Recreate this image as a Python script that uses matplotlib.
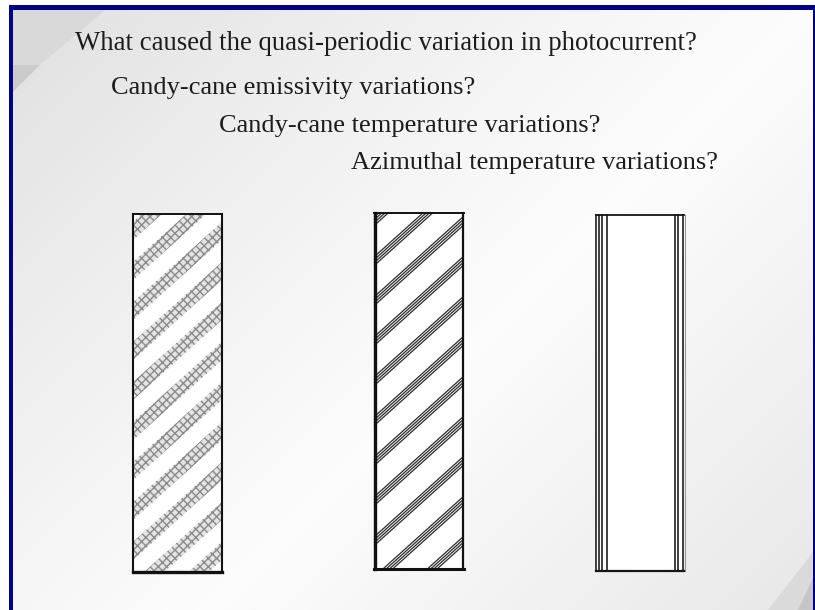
import numpy as np
import matplotlib
matplotlib.use("Agg")
import matplotlib.pyplot as plt
from matplotlib.patches import Rectangle, Polygon

# ---- content ----
lines_text = [
    "What caused the quasi-periodic variation in photocurrent?",
    "Candy-cane emissivity variations?",
    "Candy-cane temperature variations?",
    "Azimuthal temperature variations?",
]
text_x = [75, 111, 219, 351]
text_y = [50, 94, 132, 169]
text_size = [19.3, 19.0, 19.0, 19.0]

bar_left = [133, 374, 596]
bar_right = [222, 463, 684]
bar_top = [214, 213, 215]
bar_bottom = [572, 569, 571]
bar_style = ["stipple", "lines", "vertical"]

W, H = 815, 610
fig = plt.figure(figsize=(W / 100, H / 100), dpi=100)
ax = fig.add_axes([0, 0, 1, 1])
ax.set_xlim(0, W)
ax.set_ylim(H, 0)
ax.axis("off")
fig.patch.set_facecolor("white")


def clip_rect(poly, l, r, t, b):
    def clip(pts, inside, inter):
        out = []
        n = len(pts)
        for i in range(n):
            p, q = pts[i], pts[(i + 1) % n]
            ip, iq = inside(p), inside(q)
            if ip:
                out.append(p)
                if not iq:
                    out.append(inter(p, q))
            elif iq:
                out.append(inter(p, q))
        return out

    def ix(xv):
        return lambda p, q: (xv, p[1] + (q[1] - p[1]) * (xv - p[0]) / (q[0] - p[0]))

    def iy(yv):
        return lambda p, q: (p[0] + (q[0] - p[0]) * (yv - p[1]) / (q[1] - p[1]), yv)

    pts = list(poly)
    for inside, inter in [(lambda p: p[0] >= l, ix(l)), (lambda p: p[0] <= r, ix(r)),
                          (lambda p: p[1] >= t, iy(t)), (lambda p: p[1] <= b, iy(b))]:
        if not pts:
            break
        pts = clip(pts, inside, inter)
    return pts


# ---- slide background gradient (function of x+y) ----
xs = np.arange(13, 813) + 0.5
ys = np.arange(10, 610) + 0.5
X, Y = np.meshgrid(xs, ys)
S = X + Y
v = np.interp(S, [0, 120, 350, 650, 820, 1000, 1300, 1425],
              [0.87, 0.895, 0.93, 0.97, 0.99, 0.965, 0.925, 0.905])
img = np.dstack([v, v, v])
ax.imshow(img, extent=(13, 813, 610, 10), interpolation="bilinear", zorder=0, aspect="auto")

# decorative shapes
ax.add_patch(Polygon([(13, 10), (105, 10), (40, 65), (13, 65)], closed=True,
                     facecolor="#d9d9d9", edgecolor="none", zorder=1))
ax.add_patch(Polygon([(13, 65), (40, 65), (13, 92)], closed=True,
                     facecolor="#cbcbcb", edgecolor="none", zorder=1))
ax.add_patch(Polygon([(813, 552), (813, 610), (768, 610)], closed=True,
                     facecolor="#dadada", edgecolor="none", zorder=1))
ax.add_patch(Polygon([(813, 578), (813, 610), (798, 610)], closed=True,
                     facecolor="#c6c6c6", edgecolor="none", zorder=1))

# navy frame
navy = "#000088"
ax.add_patch(Rectangle((9, 5), W - 9, 5, facecolor=navy, edgecolor="none", zorder=5))
ax.add_patch(Rectangle((9, 5), 4, H - 5, facecolor=navy, edgecolor="none", zorder=5))
ax.add_patch(Rectangle((813, 5), 2, H - 5, facecolor=navy, edgecolor="none", zorder=5))

# ---- text ----
for t, x, y, fs in zip(lines_text, text_x, text_y, text_size):
    ax.text(x, y, t, fontsize=fs, family=["Liberation Serif", "DejaVu Serif"],
            color="#1c1c1c", ha="left", va="baseline", zorder=6)

# ---- bars ----
slope = 0.9
period = 40.0
for l, r, tp, bt, st in zip(bar_left, bar_right, bar_top, bar_bottom, bar_style):
    w = r - l
    h = bt - tp
    ax.add_patch(Rectangle((l, tp), w, h, facecolor="white", edgecolor="none", zorder=2))
    if st in ("stipple", "lines"):
        n = int((h + slope * w) / period) + 3
        for k in range(n):
            c = tp + k * period + (8 if st == "stipple" else 4)
            if st == "stipple":
                bw = 18
                band = [(l, c), (r, c - slope * w), (r, c - slope * w + bw), (l, c + bw)]
                pts = clip_rect(band, l, r, tp, bt)
                if len(pts) >= 3:
                    ax.add_patch(Polygon(pts, closed=True, facecolor="#e4e4e4",
                                         edgecolor="#8a8a8a", hatch="xxxx",
                                         linewidth=0, zorder=3))
            else:
                for j in range(4):
                    cc = c + j * 2.9
                    seg = clip_rect([(l, cc), (r, cc - slope * w), (r, cc - slope * w + 0.01),
                                     (l, cc + 0.01)], l, r, tp, bt)
                    if len(seg) >= 2:
                        sx = [p[0] for p in seg]
                        sy = [p[1] for p in seg]
                        i0, i1 = int(np.argmin(sx)), int(np.argmax(sx))
                        ax.plot([sx[i0], sx[i1]], [sy[i0], sy[i1]], color="#2a2a2a",
                                lw=0.9, zorder=3, solid_capstyle="butt")
        if st == "stipple":
            ax.plot([l, l], [tp, bt], color="#111", lw=1.5, zorder=4)
            ax.plot([r, r], [tp, bt], color="#111", lw=1.5, zorder=4)
            ax.plot([l, r], [tp, tp], color="#111", lw=1.4, zorder=4)
            ax.plot([l, r], [bt, bt], color="#111", lw=2.4, zorder=4)
        else:
            ax.plot([l + 1, l + 1], [tp, bt], color="#111", lw=2.4, zorder=4)
            ax.plot([r, r], [tp, bt], color="#111", lw=1.6, zorder=4)
            ax.plot([l, r + 1], [tp, tp], color="#111", lw=1.4, zorder=4)
            ax.plot([l, r + 1], [bt, bt], color="#111", lw=2.2, zorder=4)
    else:
        for dx in [0.3, 3.0, 6.0, 10.8]:
            ax.plot([l + dx, l + dx], [tp, bt], color="#151515", lw=1.15, zorder=4)
        for dx in [-9, -6, -1.3]:
            ax.plot([r + dx, r + dx], [tp, bt], color="#151515", lw=1.15, zorder=4)
        ax.plot([r + 0.6, r + 0.6], [tp, bt], color="#9a9a9a", lw=0.8, zorder=4)
        ax.plot([l, r], [tp, tp], color="#151515", lw=1.3, zorder=4)
        ax.plot([l, r], [bt, bt], color="#151515", lw=1.6, zorder=4)

fig.savefig("out.png", dpi=100, facecolor="white")
